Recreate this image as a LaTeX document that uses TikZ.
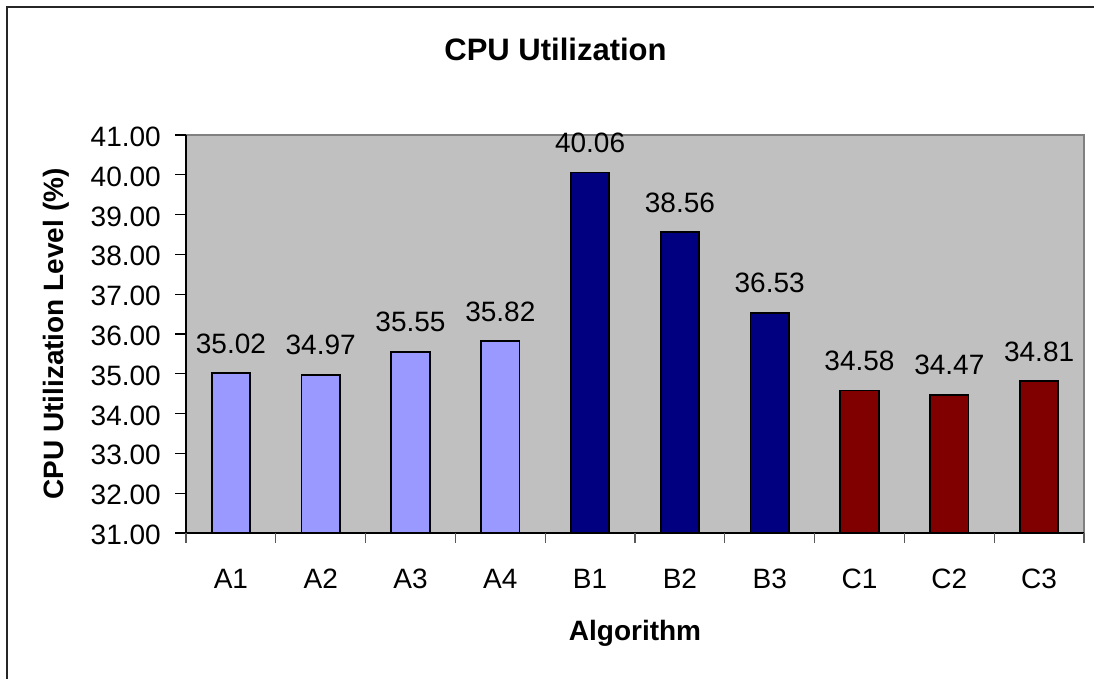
\documentclass[tikz,border=0pt]{standalone}
\usepackage{fontspec}
\setmainfont{Liberation Sans}
\definecolor{plotgray}{HTML}{C0C0C0}
\definecolor{barA}{HTML}{9999FF}
\definecolor{barB}{HTML}{000080}
\definecolor{barC}{HTML}{800000}
\definecolor{bordergray}{HTML}{808080}
\begin{document}
\begin{tikzpicture}[x=1pt,y=-1pt,
  lbl/.style={inner sep=0pt,font=\fontsize{28}{34}\selectfont},
  boldlbl/.style={inner sep=0pt,font=\fontsize{28}{34}\selectfont\bfseries},
  bar/.style={draw=black,line width=1.8pt},
  axisline/.style={line width=1.5pt,black}]
\useasboundingbox (0,0) rectangle (1094,679);
\fill[white] (0,0) rectangle (1094,679);
% outer chart frame
\draw[line width=1.5pt,black!85] (7,690) -- (7,7) -- (1105,7);
% title
\node[inner sep=0pt,font=\fontsize{31}{36}\selectfont\bfseries,anchor=base] (title) at (555.5,60.5) {CPU Utilization};
% plot area
\fill[plotgray] (186,135) rectangle (1084,533);
\draw[bordergray,line width=1.6pt] (186,135) -- (1084,135) -- (1084,533);
% bars
\foreach \v/\lab/\col [count=\i] in {35.02/A1/barA,34.97/A2/barA,35.55/A3/barA,35.82/A4/barA,40.06/B1/barB,38.56/B2/barB,36.53/B3/barB,34.58/C1/barC,34.47/C2/barC,34.81/C3/barC}{
  \pgfmathsetmacro{\xc}{186+89.8*(\i-0.5)}
  \pgfmathsetmacro{\yt}{533-(\v-31)*39.8}
  \draw[bar,fill=\col] ({\xc-19.25},533) rectangle ({\xc+19.25},\yt);
  \node[lbl,anchor=base] (val\i) at (\xc,{\yt-20}) {\v};
  \node[lbl,anchor=base] (cat\i) at (\xc,588) {\lab};
}
% axes
\draw[axisline] (186,135) -- (186,533) -- (1084,533);
\foreach \v in {31,...,41}{
  \pgfmathsetmacro{\yy}{533-(\v-31)*39.8}
  \draw[line width=1.3pt] (175,\yy) -- (186,\yy);
  \node[lbl,anchor=base east] (yt\v) at (161,{\yy+11.5}) {\v.00};
}
\foreach \k in {0,...,10}{
  \draw[line width=1.3pt,black!65] ({186+89.8*\k},533) -- ({186+89.8*\k},543);
}
% axis titles
\node[boldlbl,anchor=base] (xtitle) at (635,640) {Algorithm};
\node[boldlbl,anchor=base,rotate=90] (ytitle) at (63,334) {CPU Utilization Level (\%)};
\end{tikzpicture}
\end{document}
